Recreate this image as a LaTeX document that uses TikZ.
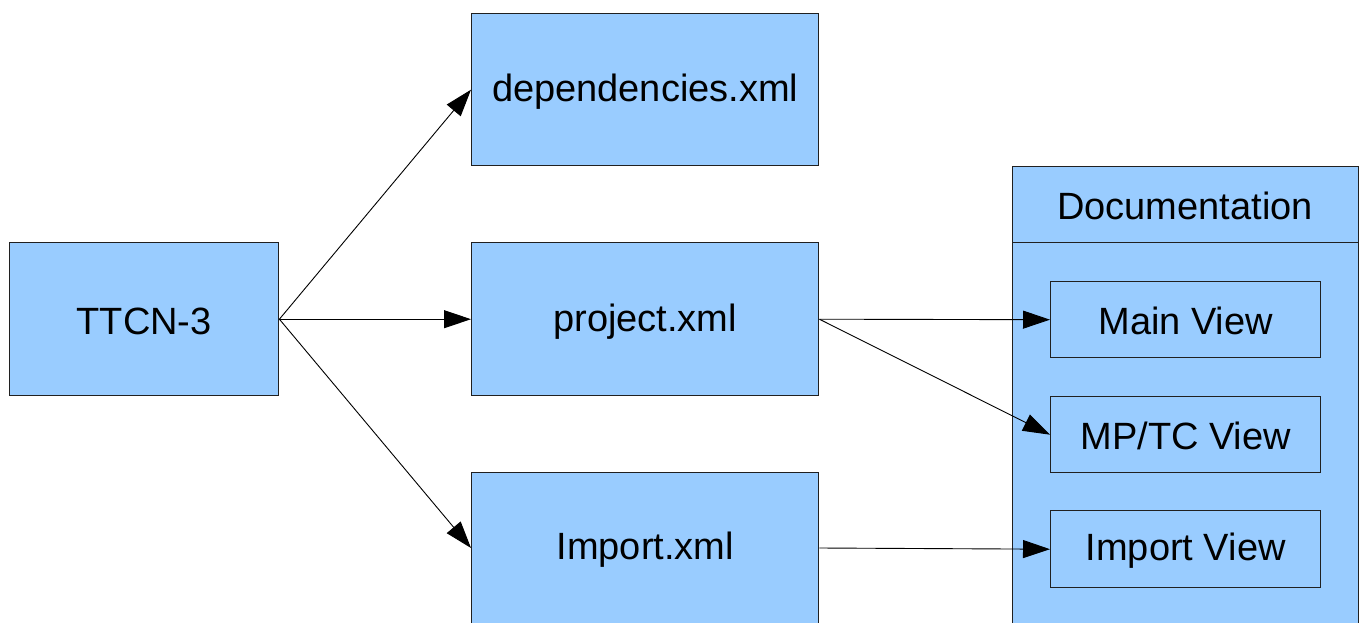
\documentclass[tikz,border=0pt]{standalone}
\usepackage{fontspec}
\setmainfont{Liberation Sans}
\usetikzlibrary{arrows.meta,calc}
\definecolor{boxblue}{HTML}{99CCFF}
\definecolor{edge}{HTML}{202020}
\tikzset{
  box/.style={draw=edge, fill=boxblue, line width=1.4pt, inner sep=0pt, anchor=north west},
  lbl/.style={font=\fontsize{38}{40}\selectfont, inner sep=0pt},
  conn/.style={draw=black, line width=0.9pt, -{Triangle[length=27pt,width=18pt]}}
}
\begin{document}
\begin{tikzpicture}[x=1pt,y=-1pt]
\useasboundingbox (0,0) rectangle (1364,623);
\begin{scope}
\clip (0,0) rectangle (1364,623);
% boxes
\node[box, minimum width=269pt, minimum height=153pt] (ttcn) at (9,242) {};
\node[box, minimum width=347pt, minimum height=152pt] (dep) at (471,13) {};
\node[box, minimum width=347pt, minimum height=153pt] (proj) at (471,242) {};
\node[box, minimum width=347pt, minimum height=153pt] (imp) at (471,472) {};
\node[box, minimum width=346pt, minimum height=470pt] (doc) at (1012,166) {};
\draw[draw=edge, line width=1.4pt] (1012,242.5) -- (1358,242.5);
\node[box, minimum width=270pt, minimum height=76pt] (mainv) at (1050,281) {};
\node[box, minimum width=270pt, minimum height=76pt] (mptc) at (1050,396) {};
\node[box, minimum width=270pt, minimum height=77pt] (impv) at (1050,510) {};
% labels
\node[lbl] at ($(ttcn.center)+(0,2)$) {TTCN-3};
\node[lbl] at ($(dep.center)+(0,2)$) {dependencies.xml};
\node[lbl] at ($(proj.center)+(0,2)$) {project.xml};
\node[lbl] at ($(imp.north)+(0,78)$) {Import.xml};
\node[lbl] at (1185,206) {Documentation};
\node[lbl] at ($(mainv.center)+(0,1)$) {Main View};
\node[lbl] at ($(mptc.center)+(0,1)$) {MP/TC View};
\node[lbl] at ($(impv.center)+(0,1)$) {Import View};
% connectors
\coordinate (impw) at ($(imp.north west)+(0,76)$);
\coordinate (impe) at ($(imp.north east)+(0,76)$);
\draw[conn] (ttcn.east) -- (dep.west);
\draw[conn] (ttcn.east) -- (proj.west);
\draw[conn] (ttcn.east) -- (impw);
\draw[conn] (proj.east) -- (mainv.west);
\draw[conn] (proj.east) -- (mptc.west);
\draw[conn] (impe) -- (impv.west);
\end{scope}
\end{tikzpicture}
\end{document}
